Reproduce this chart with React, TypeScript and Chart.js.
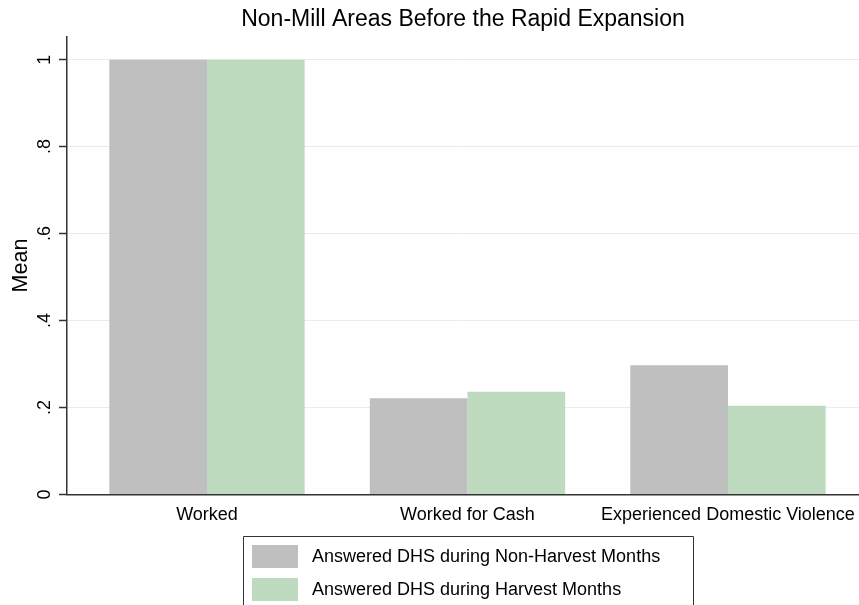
import React, { useEffect, useRef } from "react";
import { Chart, registerables } from "chart.js";

Chart.register(...registerables);

const categories = ["Worked", "Worked for Cash", "Experienced Domestic Violence"];
const seriesLabels = [
  "Answered DHS during Non-Harvest Months",
  "Answered DHS during Harvest Months",
];
const nonHarvest = [1.0, 0.221, 0.297];
const harvest = [1.0, 0.236, 0.204];
const yTicks = [0, 0.2, 0.4, 0.6, 0.8, 1];
const seriesColors = ["#bfbfbf", "#bfdbbf"];
const titleText = "Non-Mill Areas Before the Rapid Expansion";
const yTitle = "Mean";

const FONT = "'Liberation Sans', Arial, Helvetica, sans-serif";

const fmtY = (v: number) => {
  if (v === 0) return "0";
  if (v === 1) return "1";
  return v.toFixed(1).replace(/^0/, "");
};

const boxLegend = {
  id: "boxLegend",
  afterDraw(chart: any) {
    const ctx = chart.ctx as CanvasRenderingContext2D;
    const left = 243;
    const right = 693;
    const top = 536;
    ctx.save();
    ctx.strokeStyle = "#333";
    ctx.lineWidth = 1;
    ctx.beginPath();
    ctx.moveTo(left + 0.5, 620);
    ctx.lineTo(left + 0.5, top + 0.5);
    ctx.lineTo(right + 0.5, top + 0.5);
    ctx.lineTo(right + 0.5, 620);
    ctx.stroke();
    chart.data.datasets.forEach((ds: any, i: number) => {
      const cy = 556.5 + i * 33;
      ctx.fillStyle = ds.backgroundColor;
      ctx.fillRect(252, cy - 11.5, 46, 23);
      ctx.fillStyle = "#000";
      ctx.font = `18px ${FONT}`;
      ctx.textBaseline = "middle";
      ctx.textAlign = "left";
      ctx.fillText(ds.label, 312, cy + 1);
    });
    ctx.restore();
  },
};

export default function App() {
  const ref = useRef<HTMLCanvasElement | null>(null);

  useEffect(() => {
    if (!ref.current) return;
    const chart = new Chart(ref.current, {
      type: "bar",
      data: {
        datasets: [
          {
            label: seriesLabels[0],
            data: categories.map((_, i) => ({ x: i, y: nonHarvest[i] })),
            backgroundColor: seriesColors[0],
            borderWidth: 0,
            categoryPercentage: 0.75,
            barPercentage: 1,
          },
          {
            label: seriesLabels[1],
            data: categories.map((_, i) => ({ x: i, y: harvest[i] })),
            backgroundColor: seriesColors[1],
            borderWidth: 0,
            categoryPercentage: 0.75,
            barPercentage: 1,
          },
        ],
      },
      options: {
        responsive: false,
        animation: false,
        layout: { padding: { left: 0, right: 0, top: 0, bottom: 69 } },
        plugins: {
          legend: { display: false },
          tooltip: { enabled: false },
          title: {
            display: true,
            text: titleText,
            fullSize: false,
            color: "#000",
            font: { family: FONT, size: 23, weight: "normal" },
            padding: { top: 6, bottom: 3 },
          },
        },
        scales: {
          x: {
            type: "linear",
            offset: false,
            bounds: "data",
            min: -0.5374,
            max: 2.503,
            afterBuildTicks: (s: any) => {
              s.ticks = categories.map((_, i) => ({ value: i }));
            },
            afterFit: (s: any) => {
              s.paddingLeft = 0;
              s.paddingRight = 0;
            },
            ticks: {
              callback: (v: any) => categories[v as number] ?? "",
              autoSkip: false,
              maxRotation: 0,
              minRotation: 0,
              padding: 10,
              color: "#000",
              font: { family: FONT, size: 18 },
            },
            grid: { display: false, drawTicks: false, offset: false },
            border: { display: true, color: "#333", width: 1.5 },
          },
          y: {
            type: "linear",
            min: 0,
            max: 1.053,
            afterBuildTicks: (s: any) => {
              s.ticks = yTicks.map((v) => ({ value: v }));
            },
            afterFit: (s: any) => {
              s.width = 67;
              s.paddingTop = 0;
              s.paddingBottom = 0;
            },
            ticks: {
              callback: (v: any) => fmtY(v as number),
              minRotation: 90,
              maxRotation: 90,
              crossAlign: "center",
              padding: 6,
              color: "#000",
              font: { family: FONT, size: 18 },
            },
            grid: {
              color: "#ebebeb",
              lineWidth: 1,
              tickLength: 8,
              tickColor: "#333",
              tickWidth: 1.5,
              drawTicks: true,
            },
            border: { display: true, color: "#333", width: 1.5 },
            title: {
              display: true,
              text: yTitle,
              color: "#000",
              font: { family: FONT, size: 21.5 },
              padding: { top: 8, bottom: 0 },
            },
          },
        },
      },
      plugins: [boxLegend],
    } as any);
    return () => chart.destroy();
  }, []);

  return (
    <div style={{ position: "fixed", left: 0, top: 0, width: 859, height: 605, background: "#fff" }}>
      <canvas ref={ref} width={859} height={605} style={{ display: "block" }} />
    </div>
  );
}
